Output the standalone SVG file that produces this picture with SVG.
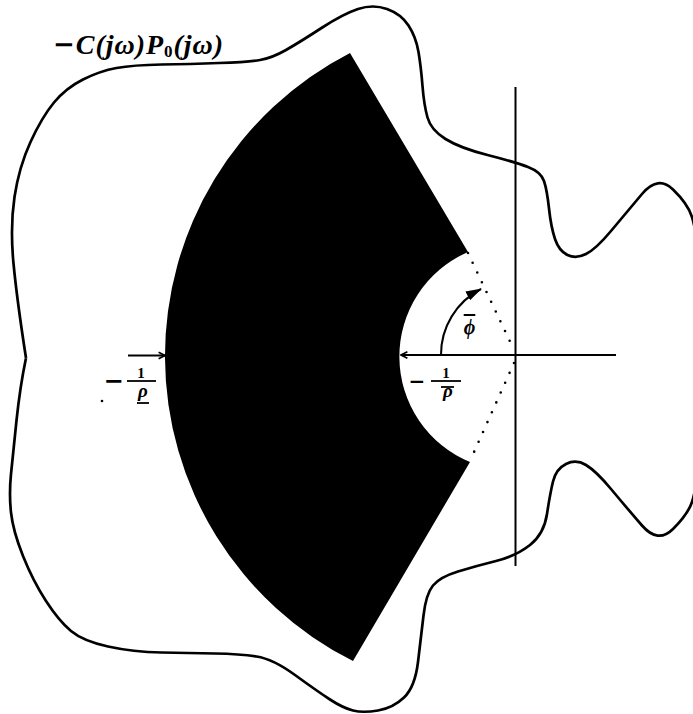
<svg xmlns="http://www.w3.org/2000/svg" width="693" height="714" viewBox="0 0 693 714">
<style>
.math{font-family:"Liberation Serif","DejaVu Serif",serif;font-weight:bold;font-style:italic;fill:#000}
.up{font-style:normal}
.minus{font-family:"DejaVu Sans","Liberation Sans",sans-serif;font-weight:bold;font-style:normal;fill:#000}
.ax{stroke:#000;stroke-width:2;fill:none}
.curve{stroke:#000;stroke-width:2.7;fill:none;stroke-linejoin:round}
.dots{stroke:#000;stroke-width:2.6;stroke-linecap:round;stroke-dasharray:0 10.8;fill:none}
.bar{stroke:#000;stroke-width:1.8}
</style>
<defs>
<marker id="chev" viewBox="0 0 10 10" refX="9" refY="5" markerWidth="8" markerHeight="9" markerUnits="userSpaceOnUse" orient="auto">
<path d="M1,1 L9,5 L1,9" fill="none" stroke="#000" stroke-width="2"/>
</marker>
<marker id="head" viewBox="0 0 16 10" refX="15" refY="5" markerWidth="16" markerHeight="10" markerUnits="userSpaceOnUse" orient="auto">
<path d="M0,0 L16,5 L0,10 Z" fill="#000"/>
</marker>
</defs>
<rect width="693" height="714" fill="#fff"/>
<g id="sector">
<path d="M350,53 L468,252 A114,114 0 0 0 470,462 L353,661 A341,341 0 0 1 350,53 Z" fill="#000"/>
<path class="dots" d="M468,253 L514,350"/>
<path class="dots" d="M514,363 L470,461"/>
</g>
<g id="nyquist-curve">
<path class="curve" d="M26,358 Q17,300 13.5,263.5 Q10,227 14.5,197 Q19,167 30.5,142 Q42,117 54,102.5 Q66,88 83,79.5 Q100,71 116.5,68 Q133,65 161.5,64.5 Q190,64 219,63 Q248,62 260,60 Q272,58 286,50 Q300,42 321.5,28 Q343,14 358,9 Q373,4 387,9 Q401,14 408.5,25.5 Q416,37 418.5,52 Q421,67 422.5,86 Q424,105 427.5,117.5 Q431,130 445.5,139 Q460,148 487.5,155 Q515,162 528,167 Q541,172 544,181 Q547,190 549,208.5 Q551,227 555,239 Q559,251 567.5,255 Q576,259 586,254 Q596,249 611,231 Q626,213 642,194 Q658,175 673,189.5 Q688,204 692,217 Q696,230 700.5,265 Q705,300 705,360 Q705,420 700.5,455 Q696,490 692,502 Q688,514 673,529 Q658,544 642,525.5 Q626,507 611,489 Q596,471 586,465 Q576,459 566,464 Q556,469 553,481.5 Q550,494 547,514 Q544,534 530,545 Q516,556 496,561 Q476,566 458,571.5 Q440,577 433,585.5 Q426,594 423.5,615.5 Q421,637 418,662 Q415,687 404,697.5 Q393,708 378,710.5 Q363,713 353,710.5 Q343,708 330,699.5 Q317,691 295,675 Q273,659 256.5,656.5 Q240,654 215,653.5 Q190,653 161.5,652.5 Q133,652 108,646.5 Q83,641 71,631 Q59,621 46,601 Q33,581 23,556 Q13,531 11,512.5 Q9,494 11,474 Q13,454 16.5,420.5 Q20,387 26,358"/>
</g>
<g id="axes">
<line class="ax" x1="515.5" y1="87" x2="515.5" y2="566"/>
</g>
<g id="connectors">
<line class="ax" x1="616" y1="355" x2="401" y2="355" marker-end="url(#chev)"/>
<line class="ax" x1="128" y1="355.5" x2="165" y2="355.5" marker-end="url(#chev)"/>
<path class="ax" stroke-width="2.2" d="M441,355 A74,74 0 0 1 481,289" marker-end="url(#head)"/>
</g>
<g id="label-curve">
<text class="math" x="53" y="54" font-size="28" textLength="170" lengthAdjust="spacing"><tspan class="minus" font-size="26" dy="-1">−</tspan><tspan dy="1">C(jω)P</tspan><tspan class="up" font-size="17" dy="3">0</tspan><tspan dy="-3">(jω)</tspan></text>
</g>
<g id="label-phi">
<text class="math" x="469.5" y="334" font-size="20" text-anchor="middle" text-decoration="overline">ϕ</text>
</g>
<g id="label-rho-bar">
<text class="minus" x="417" y="388" font-size="20" text-anchor="middle">−</text>
<line class="bar" x1="431" y1="381" x2="461" y2="381"/>
<text class="math up" x="446" y="378" font-size="15" text-anchor="middle">1</text>
<line class="bar" x1="441" y1="387" x2="454" y2="387"/>
<text class="math" x="448" y="397" font-size="19" text-anchor="middle">ρ</text>
</g>
<g id="label-rho-under">
<text class="minus" x="113.5" y="389" font-size="24" text-anchor="middle">−</text>
<line class="bar" x1="127" y1="381" x2="156" y2="381"/>
<text class="math up" x="141" y="378" font-size="15" text-anchor="middle">1</text>
<text class="math" x="143" y="397" font-size="19" text-anchor="middle">ρ</text>
<line class="bar" x1="137" y1="403" x2="149" y2="403"/>
<circle cx="102" cy="401" r="1.3" fill="#000"/>
</g>
</svg>
